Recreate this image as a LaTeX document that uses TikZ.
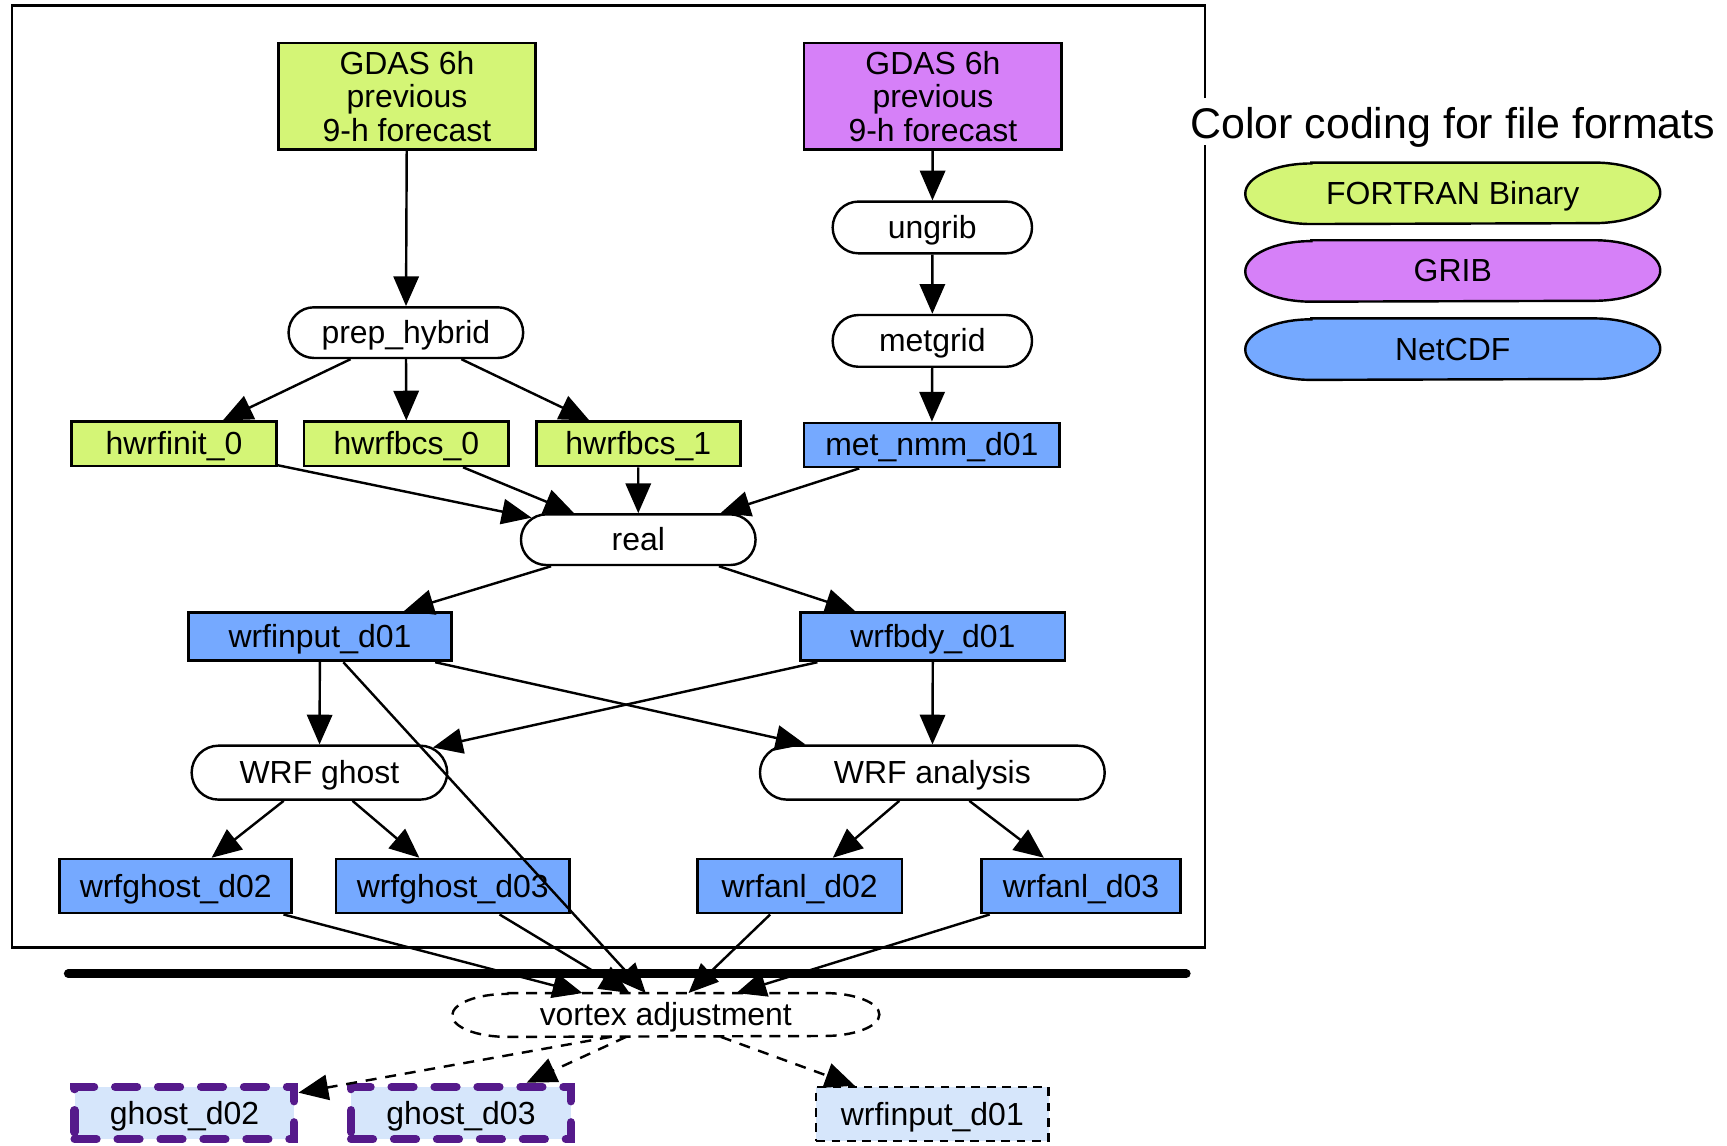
\documentclass[tikz,border=0pt]{standalone}
\usepackage{fontspec}
\setmainfont{Liberation Sans}
\usetikzlibrary{arrows.meta,shapes.misc}
\definecolor{fbin}{HTML}{D4F576}
\definecolor{fgrib}{HTML}{D680F8}
\definecolor{fnc}{HTML}{75A9FF}
\definecolor{flight}{HTML}{D6E6FB}
\definecolor{fdark}{HTML}{551A8B}
\begin{document}
\begin{tikzpicture}[x=0.5pt,y=-0.5pt,
  lbl/.style={font=\fontsize{14.5pt}{15.25pt}\selectfont, inner sep=0pt, align=center},
  one/.style={lbl, text height=11pt, text depth=1pt},
  filebox/.style={rectangle, draw, line width=1.25pt},
  binbox/.style={one, filebox, fill=fbin},
  ncbox/.style={one, filebox, fill=fnc},
  proc/.style={one, rounded rectangle, draw, line width=1.1pt, fill=white},
  ghostout/.style={one, rectangle, draw=fdark, fill=flight, line width=3.7pt, dash pattern=on 10pt off 9.5pt, line cap=round, minimum width=99.8pt, minimum height=23.8pt},
  arr/.style={line width=1.1pt, -{Triangle[length=13.5pt,width=11.5pt]}},
  darr/.style={arr, dash pattern=on 5pt off 4pt},
  legend/.style={one, rectangle, minimum width=188pt, minimum height=27.5pt},
]
\useasboundingbox (0,0) rectangle (1568,1040);

% frame (open where the legend title crosses it)
\draw[line width=1.25pt] (1094,89) -- (1094,5) -- (11,5) -- (11,860) -- (1094,860) -- (1094,132);

% legend
\node[font=\fontsize{19.5pt}{22pt}\selectfont, inner sep=0pt, anchor=base] (ltitle) at (1319,125.5) {Color coding for file formats};
\foreach \n/\y/\c/\t in {lbin/175.5/fbin/FORTRAN Binary, lgrib/246/fgrib/GRIB, lnc/317/fnc/NetCDF}{
  \node[legend] (\n) at (1319,\y) {};
  \path[draw, fill=\c, line width=1.1pt]
    ([xshift=30pt]\n.north west) -- ([xshift=-30pt]\n.north east)
    arc[start angle=90, end angle=-90, x radius=30pt, y radius=13.75pt]
    -- ([xshift=30pt]\n.south west)
    arc[start angle=270, end angle=90, x radius=30pt, y radius=13.75pt] -- cycle;
  \node[one] at (\n) {\t};
}

% nodes
\node[lbl, filebox, fill=fbin, minimum width=116.5pt, minimum height=48.5pt] (gdasA) at (369.5,87.5) {GDAS 6h\\previous\\9-h forecast};
\node[lbl, filebox, fill=fgrib, minimum width=117pt, minimum height=48.5pt] (gdasB) at (847,87.5) {GDAS 6h\\previous\\9-h forecast};
\node[proc, minimum width=90.5pt, minimum height=23.5pt] (ungrib) at (846.5,206.5) {ungrib};
\node[proc, minimum width=90.5pt, minimum height=23.5pt] (metgrid) at (846.5,309.5) {metgrid};
\node[proc, minimum width=106.5pt, minimum height=23pt] (prep) at (368.5,302) {prep\_hybrid};
\node[binbox, minimum width=93pt, minimum height=20pt] (hinit) at (158,403) {hwrfinit\_0};
\node[binbox, minimum width=93pt, minimum height=20pt] (hbcs0) at (369,403) {hwrfbcs\_0};
\node[binbox, minimum width=92.5pt, minimum height=20pt] (hbcs1) at (579.5,403) {hwrfbcs\_1};
\node[ncbox, minimum width=116pt, minimum height=20pt] (metnmm) at (846,404) {met\_nmm\_d01};
\node[proc, minimum width=106.5pt, minimum height=23pt] (real) at (579.5,490) {real};
\node[ncbox, minimum width=119.5pt, minimum height=22pt] (winput) at (290.5,578) {wrfinput\_d01};
\node[ncbox, minimum width=120pt, minimum height=22pt] (wbdy) at (847,578) {wrfbdy\_d01};
\node[proc, minimum width=116pt, minimum height=24.5pt] (wghost) at (290,701.5) {WRF ghost};
\node[proc, minimum width=156.5pt, minimum height=24.5pt] (wanal) at (846.5,701.5) {WRF analysis};
\node[ncbox, minimum width=105.5pt, minimum height=24.5pt] (gd02) at (159.5,804.5) {wrfghost\_d02};
\node[ncbox, minimum width=106pt, minimum height=24.5pt] (gd03) at (411,804.5) {wrfghost\_d03};
\node[ncbox, minimum width=93pt, minimum height=24.5pt] (ad02) at (726,804.5) {wrfanl\_d02};
\node[ncbox, minimum width=90.5pt, minimum height=24.5pt] (ad03) at (981.5,804.5) {wrfanl\_d03};

% separator
\coordinate (sepL) at (62,884);
\coordinate (sepR) at (1077,884);
\draw[line width=4pt, line cap=round] (sepL) -- (sepR);

% vortex adjustment
\node[one, rectangle, minimum width=193.5pt, minimum height=19.5pt] (vortex) at (604.5,921.5) {};
\path[draw, line width=1.1pt, dash pattern=on 5pt off 3.5pt]
  ([xshift=25pt]vortex.north west) -- ([xshift=-25pt]vortex.north east)
  arc[start angle=90, end angle=-90, x radius=25pt, y radius=9.75pt]
  -- ([xshift=25pt]vortex.south west)
  arc[start angle=270, end angle=90, x radius=25pt, y radius=9.75pt] -- cycle;
\node[one] at (vortex) {vortex adjustment};

\node[ghostout] (g02) at (167.5,1010.5) {ghost\_d02};
\node[ghostout] (g03) at (418.5,1010.5) {ghost\_d03};
\node[one, rectangle, draw, fill=flight, line width=1.2pt, dash pattern=on 4pt off 3pt, minimum width=105.5pt, minimum height=24.5pt] (winb) at (846.5,1011.5) {wrfinput\_d01};

% edges
\draw[arr] (gdasA) -- (prep);
\draw[arr] (gdasB) -- (ungrib);
\draw[arr] (ungrib) -- (metgrid);
\draw[arr] (metgrid) -- (metnmm);
\draw[arr] (prep) -- (hinit);
\draw[arr] (prep) -- (hbcs0);
\draw[arr] (prep) -- (hbcs1);
\draw[arr] (hinit) -- (real);
\draw[arr] (hbcs0) -- (real);
\draw[arr] (hbcs1) -- (real);
\draw[arr] (metnmm) -- (real);
\draw[arr] (real) -- (winput);
\draw[arr] (real) -- (wbdy);
\draw[arr] (winput) -- (wghost);
\draw[arr] (winput) -- (wanal);
\draw[arr] (wbdy) -- (wghost);
\draw[arr] (wbdy) -- (wanal);
\draw[arr] (winput) -- (vortex);
\draw[arr] (wghost) -- (gd02);
\draw[arr] (wghost) -- (gd03);
\draw[arr] (wanal) -- (ad02);
\draw[arr] (wanal) -- (ad03);
\draw[arr] (gd02) -- (vortex);
\draw[arr] (gd03) -- (vortex);
\draw[arr] (ad02) -- (vortex);
\draw[arr] (ad03) -- (vortex);
\draw[darr] ([xshift=-25pt]vortex.south) -- (g02);
\draw[darr] ([xshift=-18pt]vortex.south) -- (g03);
\draw[darr] ([xshift=25pt]vortex.south) -- (winb);
\end{tikzpicture}
\end{document}
